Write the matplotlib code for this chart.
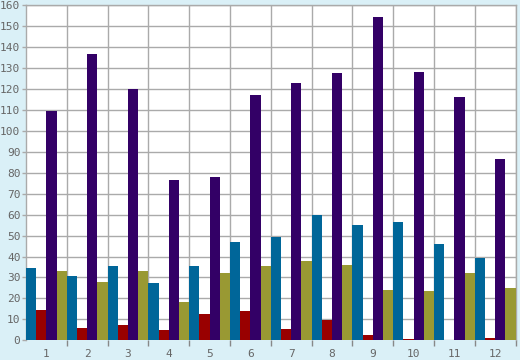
import numpy as np
import matplotlib
matplotlib.use("Agg")
import matplotlib.pyplot as plt

categories = ["1", "2", "3", "4", "5", "6", "7", "8", "9", "10", "11", "12"]
blue_vals = [34.5, 30.7, 35.5, 27.4, 35.5, 46.9, 49.3, 59.8, 55.0, 56.5, 46.0, 39.3]
red_vals = [14.5, 5.9, 7.3, 4.9, 12.6, 14.0, 5.4, 9.7, 2.5, 0.6, 0.2, 1.1]
purple_vals = [109.4, 136.7, 120.0, 76.6, 78.0, 117.1, 122.9, 127.7, 154.4, 128.1, 116.2, 86.6]
olive_vals = [33.1, 27.8, 33.1, 18.3, 32.1, 35.5, 37.9, 36.0, 24.0, 23.5, 32.1, 25.0]

series = [blue_vals, red_vals, purple_vals, olive_vals]
colors = ["#006699", "#990000", "#330066", "#999933"]

bg = "#daf0f7"
grid_c = "#aaaaaa"
text_c = "#666666"

fig = plt.figure(figsize=(5.2, 3.6), dpi=100, facecolor=bg)
ax = fig.add_axes([26 / 520, (360 - 340.3) / 360, 489.5 / 520, 335 / 360])
ax.set_facecolor("white")

x = np.arange(len(categories))
w = 0.25
for i, (vals, c) in enumerate(zip(series, colors)):
    ax.bar(x - 0.5 + w * i, vals, width=w, align="edge", color=c, zorder=3)

ax.set_xlim(-0.5, len(categories) - 0.5)
ax.set_ylim(0, 160)

ax.set_yticks(np.arange(0, 161, 10))
# category boundaries carry the tick marks, labels sit in the middle
ax.set_xticks(np.arange(0.5, len(categories), 1.0))
ax.set_xticklabels([])
ax.set_xticks(x, minor=True)
ax.set_xticklabels(categories, minor=True)

ax.grid(True, which="major", color=grid_c, linewidth=1.0, zorder=0)
for s in ax.spines.values():
    s.set_color(grid_c)
    s.set_linewidth(1.0)
ax.spines["bottom"].set_visible(False)

ax.tick_params(axis="x", which="major", length=4, width=1, color="#888888", direction="out")
ax.tick_params(axis="x", which="minor", length=0, pad=6, labelsize=8, labelcolor=text_c)
ax.tick_params(axis="y", length=3, width=1, color=grid_c, pad=1, labelsize=8, labelcolor=text_c)
for lab in ax.get_xticklabels(minor=True) + ax.get_yticklabels():
    lab.set_family("DejaVu Sans Mono")

fig.savefig("out.png", dpi=100, facecolor=bg)
